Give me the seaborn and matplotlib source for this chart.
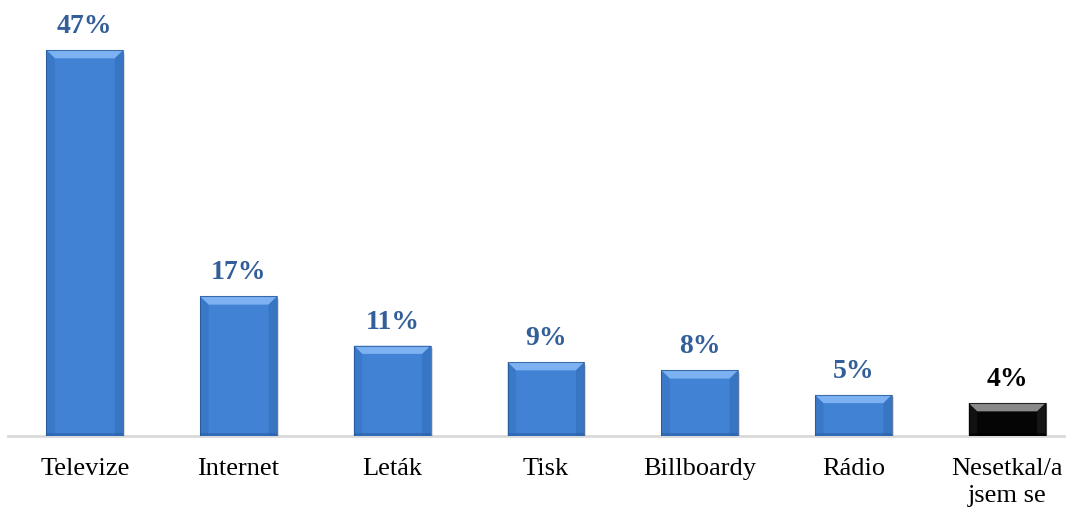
import matplotlib
matplotlib.use("Agg")
import matplotlib.pyplot as plt
from matplotlib.patches import Polygon
import seaborn as sns
import pandas as pd

categories = ["Televize", "Internet", "Leták", "Tisk", "Billboardy", "Rádio", "Nesetkal/a\njsem se"]
values = [47, 17, 11, 9, 8, 5, 4]
bar_colors = ["#4182d4"] * 6 + ["#050505"]
label_colors = ["#335f99"] * 6 + ["#000000"]

df = pd.DataFrame({"kategorie": categories, "podil": values})

sns.set_theme(style="white")
plt.rcParams["font.family"] = ["Liberation Serif", "DejaVu Serif"]

fig = plt.figure(figsize=(10.69, 5.11), dpi=100)
ax = fig.add_axes([8 / 1069, 75 / 511, 1056 / 1069, 436 / 511])

sns.barplot(data=df, x="kategorie", y="podil", hue="kategorie",
            palette=dict(zip(categories, bar_colors)), width=0.5,
            legend=False, ax=ax, saturation=1, linewidth=0)

ax.set_xlim(-0.5, 6.37)
ax.set_ylim(0, 53.1)

# bevelled look on each bar: light top, darker sides and bottom, soft shadow
for patch, col in zip(ax.patches, bar_colors):
    x0, y0 = patch.get_x(), patch.get_y()
    w, h = patch.get_width(), patch.get_height()
    x1, y1 = x0 + w, y0 + h
    dx, dy = 0.055, 1.0
    dark = col == "#050505"
    top_c = "#8a8a8a" if dark else "#7db2f2"
    side_c = "#1e1e1e" if dark else "#3570bd"
    bot_c = "#000000" if dark else "#2a5fa8"
    edge_c = "#000000" if dark else "#24518f"
    ax.add_patch(Polygon([(x0 + 0.012, y0 - 0.5), (x1 + 0.012, y0 - 0.5),
                          (x1 + 0.012, y1 - 0.3), (x0 + 0.012, y1 - 0.3)],
                         closed=True, facecolor="#000000", alpha=0.12,
                         edgecolor="none", zorder=1.5))
    patch.set_zorder(2)
    ax.add_patch(Polygon([(x0, y1), (x1, y1), (x1 - dx, y1 - dy), (x0 + dx, y1 - dy)],
                         closed=True, facecolor=top_c, edgecolor="none", zorder=3))
    ax.add_patch(Polygon([(x0, y1), (x0 + dx, y1 - dy), (x0 + dx, y0), (x0, y0)],
                         closed=True, facecolor=side_c, edgecolor="none", alpha=0.5, zorder=3))
    ax.add_patch(Polygon([(x1, y1), (x1 - dx, y1 - dy), (x1 - dx, y0), (x1, y0)],
                         closed=True, facecolor=side_c, edgecolor="none", alpha=0.7, zorder=3))
    ax.add_patch(Polygon([(x0, y0), (x1, y0), (x1, y0 + 0.4), (x0, y0 + 0.4)],
                         closed=True, facecolor=bot_c, edgecolor="none", alpha=0.6, zorder=3))
    ax.add_patch(Polygon([(x0, y0), (x1, y0), (x1, y1), (x0, y1)],
                         closed=True, facecolor="none", edgecolor=edge_c,
                         linewidth=0.8, alpha=0.7, zorder=4))

for i, (v, c) in enumerate(zip(values, label_colors)):
    ax.annotate(f"{v}%", xy=(i, v), xytext=(0, 8), textcoords="offset points",
                ha="center", va="bottom", fontsize=20, fontweight="bold", color=c)

ax.set_xlabel("")
ax.set_ylabel("")
ax.set_yticks([])
ax.tick_params(axis="x", length=0, pad=16, labelsize=19, labelcolor="#000000")
for lbl in ax.get_xticklabels():
    lbl.set_linespacing(1.3)
for s in ["top", "left", "right"]:
    ax.spines[s].set_visible(False)
ax.spines["bottom"].set_color("#d9d9d9")
ax.spines["bottom"].set_linewidth(2)
ax.spines["bottom"].set_zorder(1)

fig.savefig("out.png", dpi=100)
